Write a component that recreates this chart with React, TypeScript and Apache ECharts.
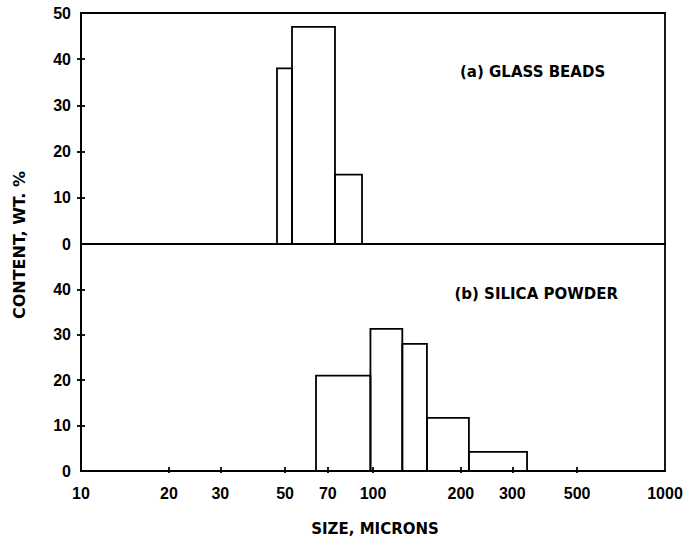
import React, { useEffect, useRef } from "react";
import * as echarts from "echarts";

// Panel (a): glass beads — bin edges (microns) and content (wt. %)
const glassEdges = [46.9, 52.8, 74.1, 91.7];
const glassContent = [38, 47, 15];

// Panel (b): silica powder — bin edges (microns) and content (wt. %)
const silicaEdges = [63.8, 98, 126, 153, 213, 337];
const silicaContent = [21, 31.3, 28, 11.7, 4.2];

const xLabelValues = [10, 20, 30, 50, 70, 100, 200, 300, 500, 1000];
const xTickValues = [20, 30, 50, 70, 100, 200, 300, 500];
const yTopLabels = [0, 10, 20, 30, 40, 50];
const yBottomLabels = [0, 10, 20, 30, 40];
const yTickValues = [10, 20, 30, 40];

const FONT = "'DejaVu Sans', Verdana, sans-serif";
const TICK_FONT = "'Liberation Sans', Arial, Helvetica, sans-serif";

function binsToData(edges: number[], vals: number[]) {
  return vals.map((v, i) => [edges[i], edges[i + 1], v]);
}

export default function App() {
  const ref = useRef<HTMLDivElement>(null);
  useEffect(() => {
    if (!ref.current) return;
    const chart = echarts.init(ref.current, null, { renderer: "svg" });
    const labelStyle = { color: "#000", fontSize: 16, fontWeight: "bold", fontFamily: TICK_FONT };
    const renderItem = (params: any, api: any) => {
      const x0 = api.value(0);
      const x1 = api.value(1);
      const h = api.value(2);
      const p0 = api.coord([x0, h]);
      const p1 = api.coord([x1, 0]);
      return {
        type: "rect",
        shape: { x: p0[0], y: p0[1], width: p1[0] - p0[0], height: p1[1] - p0[1] },
        style: { fill: "none", stroke: "#000", lineWidth: 1.8 },
      };
    };
    const lineStyle = { color: "#000", width: 1.8 };
    const xBase = {
      type: "log",
      logBase: 10,
      min: 10,
      max: 1000,
      splitLine: { show: false },
      minorTick: { show: false },
      axisLine: { show: true, lineStyle },
    };
    const yBase = {
      type: "value",
      min: 0,
      max: 50,
      interval: 10,
      splitLine: { show: false },
      axisLine: { show: true, lineStyle },
    };
    const font = `bold 15px ${FONT}`;
    const gridBase = {
      left: 81,
      width: 584,
      show: true,
      borderColor: "#000",
      borderWidth: 1.8,
      backgroundColor: "transparent",
      containLabel: false,
      outerBoundsMode: "none",
    };
    chart.setOption({
      animation: false,
      backgroundColor: "#fff",
      grid: [
        { ...gridBase, top: 13, height: 231 },
        { ...gridBase, top: 244, height: 227 },
      ],
      xAxis: [
        { ...xBase, gridIndex: 0, axisTick: { show: false }, axisLabel: { show: false } },
        {
          ...xBase,
          gridIndex: 1,
          axisTick: { show: true, length: 2, lineStyle, customValues: xTickValues },
          axisLabel: { show: true, margin: 14, ...labelStyle, customValues: xLabelValues, formatter: (v: number) => String(Math.round(v)) },
        },
        {
          ...xBase,
          gridIndex: 1,
          position: "bottom",
          axisLine: { show: false },
          axisTick: { show: true, inside: true, length: 4, lineStyle, customValues: xTickValues },
          axisLabel: { show: false },
        },
      ],
      yAxis: [
        {
          ...yBase,
          gridIndex: 0,
          axisTick: { show: true, length: 4, lineStyle, customValues: yTickValues },
          axisLabel: { show: true, margin: 10, ...labelStyle, customValues: yTopLabels },
        },
        {
          ...yBase,
          gridIndex: 0,
          position: "left",
          axisLine: { show: false },
          axisTick: { show: true, inside: true, length: 4, lineStyle, customValues: yTickValues },
          axisLabel: { show: false },
        },
        {
          ...yBase,
          gridIndex: 1,
          axisTick: { show: true, length: 4, lineStyle, customValues: yTickValues },
          axisLabel: { show: true, margin: 10, ...labelStyle, customValues: yBottomLabels },
        },
        {
          ...yBase,
          gridIndex: 1,
          position: "left",
          axisLine: { show: false },
          axisTick: { show: true, inside: true, length: 4, lineStyle, customValues: yTickValues },
          axisLabel: { show: false },
        },
      ],
      series: [
        {
          type: "custom",
          xAxisIndex: 0,
          yAxisIndex: 0,
          renderItem,
          encode: { x: [0, 1], y: 2 },
          data: binsToData(glassEdges, glassContent),
        },
        {
          type: "custom",
          xAxisIndex: 1,
          yAxisIndex: 2,
          renderItem,
          encode: { x: [0, 1], y: 2 },
          data: binsToData(silicaEdges, silicaContent),
        },
      ],
      graphic: [
        { type: "text", left: 460, top: 64, style: { text: "(a) GLASS BEADS", fill: "#000", font } },
        { type: "text", right: 683 - 618, top: 286, style: { text: "(b) SILICA POWDER", fill: "#000", font } },
        { type: "text", x: 375, y: 529, style: { text: "SIZE, MICRONS", fill: "#000", font, textAlign: "center", textVerticalAlign: "middle" } },
        { type: "text", x: 19, y: 245, rotation: Math.PI / 2, style: { text: "CONTENT, WT. %", fill: "#000", font: `bold 16px ${FONT}`, textAlign: "center", textVerticalAlign: "middle" } },
      ],
    });
    return () => chart.dispose();
  }, []);
  return <div ref={ref} style={{ position: "fixed", left: 0, top: 0, width: 683, height: 541 }} />;
}
